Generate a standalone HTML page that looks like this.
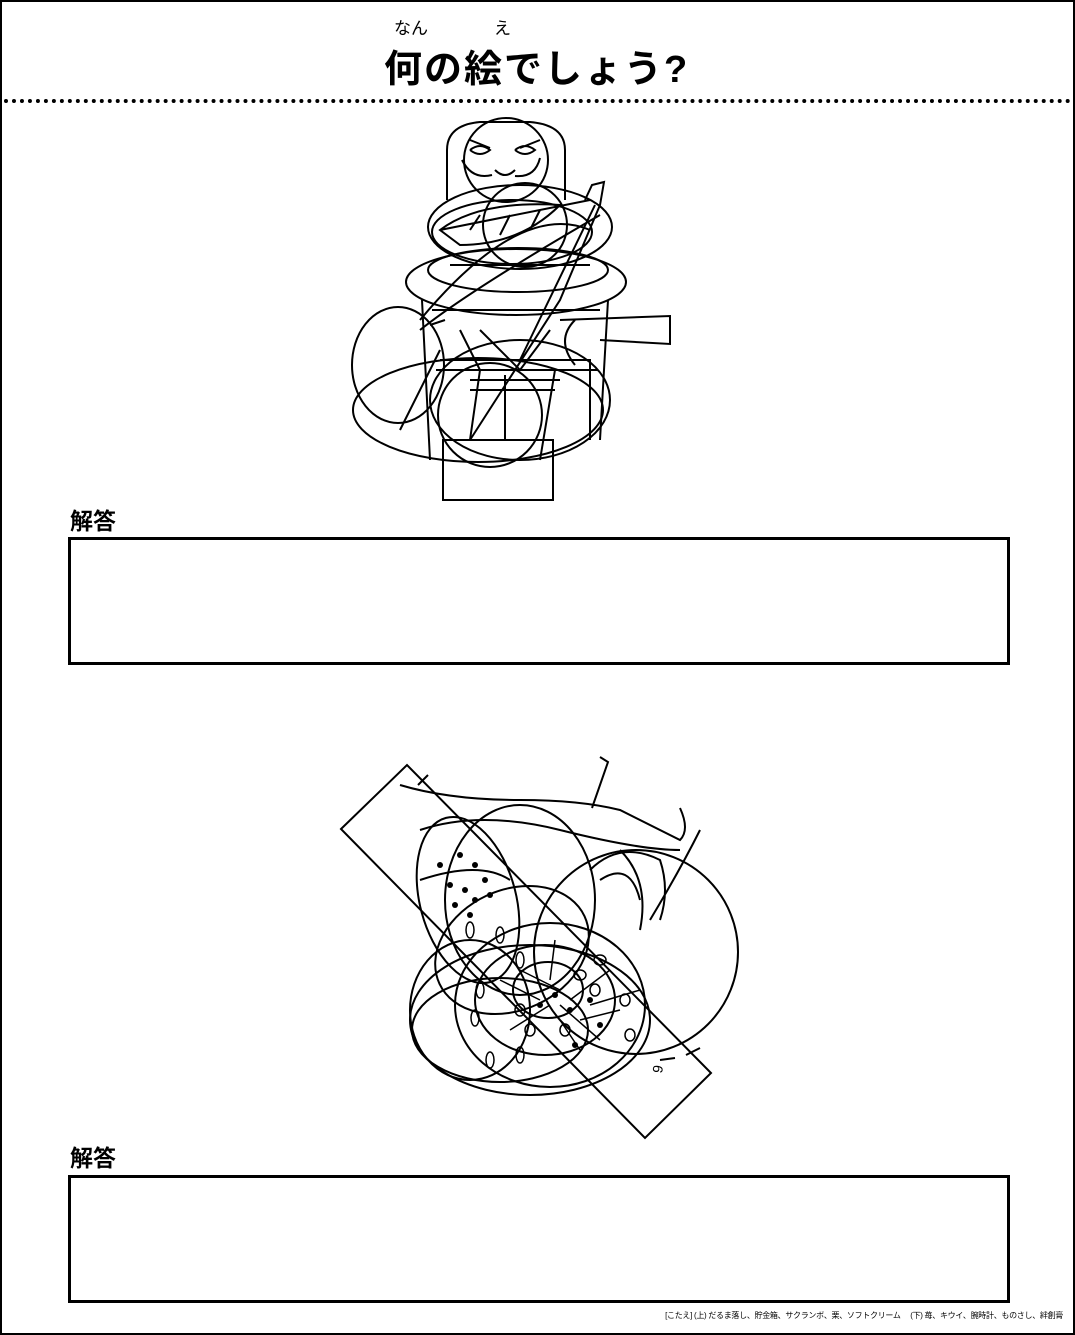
<!DOCTYPE html>
<html><head><meta charset="utf-8"><style>
html,body{margin:0;padding:0;background:#fff}
body{width:1075px;height:1335px;position:relative;overflow:hidden;font-family:"Liberation Sans","Noto Sans CJK JP",sans-serif}
.frame{position:absolute;left:0;top:0;width:1071px;height:1331px;border:2px solid #000}
.t{position:absolute;font-weight:bold;color:#000;white-space:nowrap}
.box{position:absolute;left:68px;width:936px;height:122px;border:3px solid #000}
.dots{position:absolute;left:4px;top:99px;width:1067px;height:0;border-top:4px dotted #000}
</style></head><body>
<div class="frame"></div>
<div class="t" style="left:394px;top:14px;font-size:17px;font-weight:normal">なん</div>
<div class="t" style="left:494px;top:14px;font-size:17px;font-weight:normal">え</div>
<div class="t" style="left:384px;top:38px;font-size:38px;letter-spacing:2px">何の絵でしょう?</div>
<div class="dots"></div>
<div class="t" style="left:70px;top:502px;font-size:23px">解答</div>
<div class="box" style="top:537px"></div>
<div class="t" style="left:70px;top:1139px;font-size:23px">解答</div>
<div class="box" style="top:1175px"></div>
<div class="t" style="right:12px;top:1310px;font-size:8px;font-weight:normal;letter-spacing:-0.3px">[こたえ] (上) だるま落し、貯金箱、サクランボ、栗、ソフトクリーム　 (下) 苺、キウイ、腕時計、ものさし、絆創膏</div>
<svg width="1075" height="1335" style="position:absolute;left:0;top:0" fill="none" stroke="#000" stroke-width="2">
<!-- top drawing -->
<path d="M447 200 V150 Q447 125 480 122 H530 Q565 125 565 150 V200"/>
<circle cx="506" cy="160" r="42"/>
<path d="M470 150 q10 -8 20 0 q-10 8 -20 0 M515 150 q10 -8 20 0 q-10 8 -20 0 M462 160 q10 20 30 15 M540 158 q-5 20 -25 18 M495 170 q10 10 20 0 M470 140 l20 8 M540 140 l-20 8"/>
<ellipse cx="520" cy="227" rx="92" ry="42"/>
<ellipse cx="512" cy="232" rx="80" ry="32"/>
<circle cx="525" cy="225" r="42"/>
<ellipse cx="516" cy="282" rx="110" ry="33"/>
<ellipse cx="518" cy="270" rx="90" ry="22"/>
<path d="M422 300 L430 460 M608 300 L600 440 M432 310 H600 M440 360 H590 V440"/>
<path d="M436 370 H598 M450 265 H590"/>
<ellipse cx="398" cy="365" rx="46" ry="58"/>
<ellipse cx="478" cy="410" rx="125" ry="52"/>
<ellipse cx="520" cy="400" rx="90" ry="60"/>
<circle cx="490" cy="415" r="52"/>
<rect x="443" y="440" width="110" height="60"/>
<path d="M560 320 L670 316 L670 344 L600 340 M575 320 q-20 20 0 45"/>
<path d="M440 230 Q480 200 560 205 Q520 245 460 245 Z M440 230 L590 200 M470 230 l10 -15 M500 235 l10 -20 M530 230 l10 -20"/>
<path d="M585 200 L592 185 L604 182 L600 205 L560 300 L470 440 M595 205 L520 360"/>
<path d="M420 330 Q470 290 600 215 M430 325 L445 320 M420 320 Q520 200 590 230"/>
<path d="M480 330 L520 370 L550 330 M470 380 H560 M470 390 H555 M505 375 V440"/>
<path d="M400 430 L440 350 M460 330 L480 370 L470 440 M555 370 L540 460"/>
<!-- bottom drawing -->
<polygon points="341,829 407,765 711,1073 645,1138"/>
<path d="M418 785 L428 775 M660 1060 L675 1058 M686 1055 L700 1048"/>
<text x="652" y="1072" font-size="14" stroke="none" fill="#000" transform="rotate(-80 658 1067)">9</text>
<path d="M600 757 L608 762 L592 808 M400 785 Q450 800 520 800 Q580 800 620 810 Q660 830 680 840 Q690 830 680 808"/>
<path d="M420 830 Q480 810 560 830 Q640 850 680 850 M420 880 Q480 860 510 880"/>
<ellipse cx="468" cy="900" rx="48" ry="85" transform="rotate(-15 468 900)"/>
<ellipse cx="520" cy="900" rx="75" ry="95"/>
<circle cx="636" cy="952" r="102"/>
<ellipse cx="512" cy="950" rx="80" ry="60" transform="rotate(-25 512 950)"/>
<ellipse cx="550" cy="1005" rx="95" ry="82"/>
<ellipse cx="545" cy="1000" rx="70" ry="55"/>
<ellipse cx="548" cy="990" rx="35" ry="28"/>
<ellipse cx="500" cy="1030" rx="88" ry="52"/>
<ellipse cx="530" cy="1020" rx="120" ry="75"/>
<ellipse cx="470" cy="1010" rx="60" ry="70"/>
<path d="M590 870 Q620 840 660 860 Q670 890 660 920 M600 880 Q630 860 640 900 M620 850 Q650 880 640 930 M700 830 Q680 870 650 920"/>
<g fill="#000" stroke="none">
<circle cx="440" cy="865" r="3"/><circle cx="460" cy="855" r="3"/><circle cx="475" cy="865" r="3"/><circle cx="450" cy="885" r="3"/><circle cx="465" cy="890" r="3"/><circle cx="485" cy="880" r="3"/><circle cx="455" cy="905" r="3"/><circle cx="475" cy="900" r="3"/><circle cx="490" cy="895" r="3"/><circle cx="470" cy="915" r="3"/><circle cx="555" cy="995" r="3"/><circle cx="540" cy="1005" r="3"/><circle cx="570" cy="1010" r="3"/><circle cx="600" cy="1025" r="3"/><circle cx="590" cy="1000" r="3"/><circle cx="575" cy="1045" r="3"/>
</g>
<g stroke-width="1.5">
<ellipse cx="470" cy="930" rx="4" ry="8"/><ellipse cx="500" cy="935" rx="4" ry="8"/><ellipse cx="520" cy="960" rx="4" ry="8"/><ellipse cx="480" cy="990" rx="4" ry="8"/><ellipse cx="475" cy="1018" rx="4" ry="8"/><ellipse cx="520" cy="1055" rx="4" ry="8"/><ellipse cx="490" cy="1060" rx="4" ry="8"/><ellipse cx="580" cy="975" rx="6" ry="5"/><ellipse cx="600" cy="960" rx="6" ry="5"/><ellipse cx="595" cy="990" rx="5" ry="6"/><ellipse cx="520" cy="1010" rx="5" ry="6"/><ellipse cx="530" cy="1030" rx="5" ry="6"/><ellipse cx="565" cy="1030" rx="5" ry="6"/><ellipse cx="630" cy="1035" rx="5" ry="6"/><ellipse cx="625" cy="1000" rx="5" ry="6"/>
<path d="M500 980 L540 1000 M610 970 L570 1000 M600 1040 L560 1005 M510 1030 L550 1005 M555 940 L550 980 M640 990 L590 1005 M520 970 L560 990 M580 1050 L560 1020 M620 1010 L580 1020"/>
</g>
</svg>
</body></html>
